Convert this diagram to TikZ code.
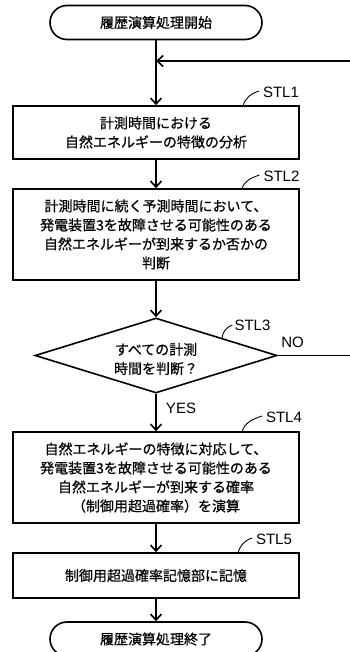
\documentclass[tikz,border=0pt]{standalone}
\usepackage{fontspec}
\setmainfont{Liberation Sans}
\newfontfamily\jp[FakeBold=0.6]{Noto Sans CJK JP}
\usetikzlibrary{shapes.geometric,arrows.meta}
\begin{document}
\begin{tikzpicture}[x=1pt,y=-1pt,
  lw/.style={line width=1.6pt},
  jtext/.style={font=\jp\fontsize{14}{19}\selectfont, align=center},
  term/.style={lw, draw, jtext, rectangle, rounded corners=17pt, minimum width=212pt, minimum height=34pt, inner sep=0pt},
  stepbox/.style={lw, draw, jtext, rectangle, minimum width=286pt, text width=280pt, inner sep=0pt},
  decision/.style={lw, draw, jtext, diamond, aspect=3.2, minimum width=242pt, minimum height=75pt, inner sep=0pt},
  flow/.style={lw, -{Straight Barb[length=6pt,width=11pt,line width=1.6pt]}},
  lbl/.style={font=\fontsize{15}{16}\selectfont, inner sep=0pt},
  tick/.style={line width=0.9pt}
]
\useasboundingbox (0,0) rectangle (350,652);

\node[term] (start) at (156,22.5) {履歴演算処理開始};
\coordinate (j) at (156,61);
\node[stepbox, minimum height=53pt] (s1) at (156,132.5) {計測時間における\\自然エネルギーの特徴の分析};
\node[stepbox, minimum height=91pt] (s2) at (156,234.5) {計測時間に続く予測時間において、\\発電装置3を故障させる可能性のある\\自然エネルギーが到来するか否かの\\判断};
\node[decision] (s3) at (156,355.5) {};
\node[jtext] (s3t) at (156,359) {すべての計測\\時間を判断？};
\node[stepbox, minimum height=91pt] (s4) at (156,477.5) {自然エネルギーの特徴に対応して、\\発電装置3を故障させる可能性のある\\自然エネルギーが到来する確率\\（制御用超過確率）を演算};
\node[stepbox, minimum height=45pt] (s5) at (156,575.5) {制御用超過確率記憶部に記憶};
\node[term] (end) at (156,639) {履歴演算処理終了};

\coordinate (nr) at (353,355.5);
\coordinate (fr) at (353,61);

\draw[flow] (start.south) -- (s1.north);
\draw[flow] (s1.south) -- (s2.north);
\draw[flow] (s2.south) -- (s3.north);
\draw[flow] (s3.south) -- (s4.north);
\draw[flow] (s4.south) -- (s5.north);
\draw[flow] (s5.south) -- (end.north);
\draw[lw] (s3.east) -- (nr) -- (fr);
\draw[flow] (fr) -- (j);

\node[lbl] (l1) at (281,92) {STL1};
\node[lbl] (l2) at (281.5,176) {STL2};
\node[lbl] (l3) at (252.5,325) {STL3};
\node[lbl] (l4) at (284,417) {STL4};
\node[lbl] (l5) at (274,539) {STL5};
\node[lbl] (no) at (292.5,342) {NO};
\node[lbl] (yes) at (181,408) {YES};

\coordinate (t1) at (243,106);
\coordinate (t2) at (242,189);
\coordinate (t3) at (222,338.5);
\coordinate (t4) at (242,432);
\coordinate (t5) at (238,553);
\draw[tick] (t1) to[out=75,in=200] ([xshift=-4pt,yshift=1pt]l1.west);
\draw[tick] (t2) to[out=75,in=200] ([xshift=-4pt,yshift=1pt]l2.west);
\draw[tick] (t3) to[out=85,in=200] ([xshift=-2pt,yshift=0pt]l3.west);
\draw[tick] (t4) to[out=75,in=200] ([xshift=-4pt,yshift=1pt]l4.west);
\draw[tick] (t5) to[out=75,in=200] ([xshift=-4pt,yshift=1pt]l5.west);
\end{tikzpicture}
\end{document}
